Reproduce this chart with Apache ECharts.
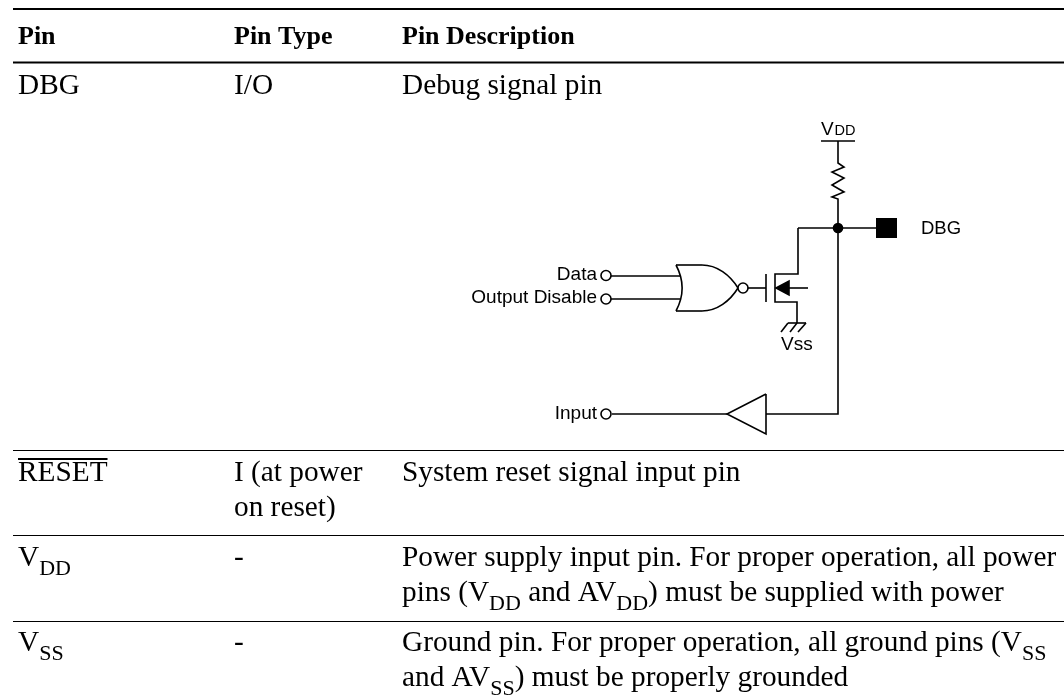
<!DOCTYPE html>
<html>
<head>
<meta charset="utf-8">
<style>
  html, body { margin: 0; background: #fff; }
  #chart { width: 1064px; height: 700px; }
</style>
<script src="https://cdn.jsdelivr.net/npm/echarts@6/dist/echarts.min.js"></script>
</head>
<body>
<div id="chart"></div>
<script>
// table text, _{..} marks a subscript, \n a new line
const headers = ['Pin', 'Pin Type', 'Pin Description'];
const pins = ['DBG', 'RESET', 'V_{DD}', 'V_{SS}'];
const pinTypes = ['I/O', 'I (at power\non reset)', '-', '-'];
const pinDescriptions = [
    'Debug signal pin',
    'System reset signal input pin',
    'Power supply input pin. For proper operation, all power\npins (V_{DD} and AV_{DD}) must be supplied with power',
    'Ground pin. For proper operation, all ground pins (V_{SS}\nand AV_{SS}) must be properly grounded'
];
const overlinedPins = ['RESET'];

// circuit labels
const rightLabels = ['Data', 'Output Disable', 'Input'];
const rightLabelBaseline = [281, 304.5, 420];

// circuit geometry, in page units of the hidden axes
const wires = [
    [[821, 141], [855, 141]],
    [[838, 141], [838, 163], [844, 167], [832, 172], [844, 178], [832, 185], [844, 192], [832, 197], [838, 199], [838, 414], [766, 414]],
    [[798, 228], [876, 228]],
    [[798, 228], [798, 274], [775, 274], [775, 302], [797, 302], [797, 323]],
    [[766, 274], [766, 302]],
    [[748, 288], [766, 288]],
    [[789, 288], [808, 288]],
    [[788, 323], [806, 323]],
    [[788, 323], [781, 332]],
    [[797, 323], [790, 332]],
    [[806, 323], [798, 332]],
    [[611, 276], [680, 276]],
    [[611, 299], [680, 299]],
    [[612, 414], [727, 414]],
    [[766, 394], [727, 414], [766, 434], [766, 394]]
];
const bubbles = [[606, 275.5], [606, 299], [606, 414], [743, 288]];
const node = [838, 228];
const padBox = [876, 218, 897, 238];
const arrowHead = [[776, 288], [789, 281], [789, 295]];

// table layout
const columnX = [18, 234, 402];
const rowBaseline = [96, 483, 568, 653];
const lineGap = 35;
const headerBaseline = 46;
const ruleY = [[9, 2.2], [62.5, 2.2], [450.5, 1.2], [535.5, 1.2], [621.5, 1.2]];
const ruleX = [13, 1064];

const SERIF = '"Liberation Serif"';
const SANS = '"Liberation Sans"';
const BODY_SIZE = 29.3;
const SUB_SIZE = 22;
const HEAD_SIZE = 26;
const WIRE = 1.6;
const ctx = document.createElement('canvas').getContext('2d');

function textEl(api, text, x, y, size, family, weight, align) {
    const p = api.coord([x, y - size * 0.33]);
    return {
        type: 'text',
        style: {
            x: p[0], y: p[1], text: text,
            font: (weight || 'normal') + ' ' + size + 'px ' + family,
            fill: '#000', textAlign: align || 'left', textVerticalAlign: 'middle'
        }
    };
}

// lays out normal and subscript runs next to each other
function richLine(api, line, x, baseline) {
    const els = [];
    let cursor = x;
    line.split(/(_\{[^}]*\})/).forEach(part => {
        if (!part) return;
        const isSub = part.startsWith('_{');
        const text = isSub ? part.slice(2, -1) : part;
        const fs = isSub ? SUB_SIZE : BODY_SIZE;
        els.push(textEl(api, text, cursor, baseline + (isSub ? 8.5 : 0), fs, SERIF));
        ctx.font = fs + 'px ' + SERIF;
        cursor += ctx.measureText(text).width;
    });
    return els;
}

function cellEls(api, text, x, baseline) {
    let els = [];
    text.split('\n').forEach((line, i) => {
        els = els.concat(richLine(api, line, x, baseline + i * lineGap));
    });
    return els;
}

function polyEl(api, pts, closed) {
    return {
        type: closed ? 'polygon' : 'polyline',
        shape: { points: pts.map(p => api.coord(p)) },
        style: { stroke: '#000', lineWidth: WIRE, fill: closed ? '#000' : null }
    };
}

function bez(api, a, c1, c2, b) {
    const A = api.coord(a), C1 = api.coord(c1), C2 = api.coord(c2), B = api.coord(b);
    return {
        type: 'bezierCurve',
        shape: { x1: A[0], y1: A[1], cpx1: C1[0], cpy1: C1[1], cpx2: C2[0], cpy2: C2[1], x2: B[0], y2: B[1] },
        style: { stroke: '#000', lineWidth: WIRE, fill: null }
    };
}

function renderTable(params, api) {
    const i = params.dataIndex;
    let els = [];
    els = els.concat(cellEls(api, pins[i], columnX[0], rowBaseline[i]));
    els = els.concat(cellEls(api, pinTypes[i], columnX[1], rowBaseline[i]));
    els = els.concat(cellEls(api, pinDescriptions[i], columnX[2], rowBaseline[i]));
    if (overlinedPins.includes(pins[i])) {
        ctx.font = BODY_SIZE + 'px ' + SERIF;
        const w = ctx.measureText(pins[i]).width;
        const a = api.coord([columnX[0], rowBaseline[i] - 24]);
        const b = api.coord([columnX[0] + w, rowBaseline[i] - 24]);
        els.push({ type: 'line', shape: { x1: a[0], y1: a[1], x2: b[0], y2: b[1] }, style: { stroke: '#000', lineWidth: 2 } });
    }
    return { type: 'group', children: els };
}

function renderHeader(params, api) {
    const i = params.dataIndex;
    return textEl(api, headers[i], columnX[i], headerBaseline, HEAD_SIZE, SERIF, 'bold');
}

function renderRule(params, api) {
    const r = ruleY[params.dataIndex];
    const a = api.coord([ruleX[0], r[0]]);
    const b = api.coord([ruleX[1], r[0]]);
    return { type: 'line', shape: { x1: a[0], y1: a[1], x2: b[0], y2: b[1] }, style: { stroke: '#000', lineWidth: r[1] } };
}

function renderCircuit(params, api) {
    const els = wires.map(w => polyEl(api, w));
    // nor gate: back curve, top and bottom edges with their arcs
    els.push(bez(api, [676, 265], [684, 280], [684, 296], [676, 311]));
    els.push(polyEl(api, [[676, 265], [702, 265]]));
    els.push(polyEl(api, [[676, 311], [702, 311]]));
    els.push(bez(api, [702, 265], [717, 265], [730, 275], [738, 288]));
    els.push(bez(api, [702, 311], [717, 311], [730, 301], [738, 288]));
    bubbles.forEach(c => {
        const p = api.coord(c);
        els.push({ type: 'circle', shape: { cx: p[0], cy: p[1], r: 5 }, style: { stroke: '#000', lineWidth: WIRE, fill: '#fff' } });
    });
    const n = api.coord(node);
    els.push({ type: 'circle', shape: { cx: n[0], cy: n[1], r: 5.3 }, style: { fill: '#000' } });
    const tl = api.coord([padBox[0], padBox[1]]), br = api.coord([padBox[2], padBox[3]]);
    els.push({ type: 'rect', shape: { x: tl[0], y: tl[1], width: br[0] - tl[0], height: br[1] - tl[1] }, style: { fill: '#000' } });
    els.push(polyEl(api, arrowHead, true));
    rightLabels.forEach((t, i) => {
        els.push(textEl(api, t, 597, rightLabelBaseline[i], 19, SANS, 'normal', 'right'));
    });
    els.push(textEl(api, 'DBG', 921, 235, 18.5, SANS));
    els.push(textEl(api, 'V', 821, 136, 19, SANS));
    els.push(textEl(api, 'DD', 834.5, 136, 14.5, SANS));
    els.push(textEl(api, 'Vss', 781, 351, 19, SANS));
    return { type: 'group', children: els };
}

const customSeries = (data, renderItem) => ({
    type: 'custom', data: data, renderItem: renderItem, silent: true, clip: false, animation: false
});

const chart = echarts.init(document.getElementById('chart'), null, { renderer: 'canvas' });
chart.setOption({
    backgroundColor: '#fff',
    animation: false,
    tooltip: { show: false },
    grid: { left: 0, right: 0, top: 0, bottom: 0 },
    xAxis: { type: 'value', min: 0, max: 1064, show: false },
    yAxis: { type: 'value', min: 0, max: 700, inverse: true, show: false },
    series: [
        customSeries(ruleY.map((r, i) => i), renderRule),
        customSeries(headers.map((h, i) => i), renderHeader),
        customSeries(pins.map((p, i) => i), renderTable),
        customSeries([0], renderCircuit)
    ]
});
</script>
</body>
</html>
